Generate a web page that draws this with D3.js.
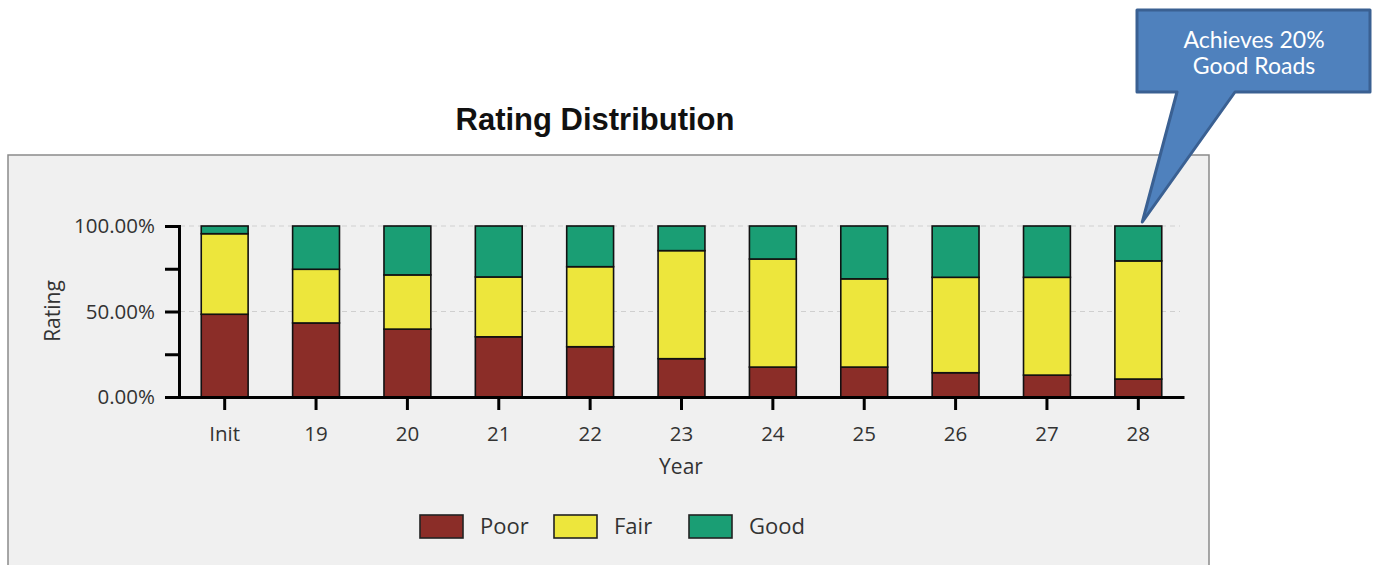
<!DOCTYPE html>
<html>
<head>
<meta charset="utf-8">
<script src="https://cdn.jsdelivr.net/npm/d3@7"></script>
<style>
  body { margin: 0; background: #fff; }
  svg { display: block; }
</style>
</head>
<body>
<div id="chart"></div>
<script>
// data (percent of roads)
const years = ["Init", "19", "20", "21", "22", "23", "24", "25", "26", "27", "28"];
const poor = [48.4, 43.3, 39.7, 35.2, 29.4, 22.4, 17.5, 17.5, 14.2, 12.8, 10.5];
const fair = [47.1, 31.4, 31.7, 35.0, 46.8, 63.2, 63.2, 51.6, 55.8, 57.2, 69.1];
const good = [4.5, 25.3, 28.6, 29.8, 23.8, 14.4, 19.3, 30.9, 30.0, 30.0, 20.4];
const seriesNames = ["Poor", "Fair", "Good"];
const yTicks = [0, 50, 100];
const calloutLines = ["Achieves 20%", "Good Roads"];

const colors = { Poor: "#8B2D28", Fair: "#EDE63C", Good: "#1A9E74" };

const width = 1391, height = 565;
const svg = d3.select("#chart").append("svg")
  .attr("width", width).attr("height", height);

// grey panel
svg.append("rect")
  .attr("x", 8).attr("y", 155).attr("width", 1201).attr("height", 420)
  .attr("fill", "#F0F0F0").attr("stroke", "#8a8a8a").attr("stroke-width", 1.5);

svg.append("text")
  .attr("x", 595).attr("y", 130)
  .attr("text-anchor", "middle")
  .style("font", "bold 31px 'Liberation Sans', Arial, sans-serif")
  .attr("fill", "#111")
  .text("Rating Distribution");

const rows = years.map((yr, i) => ({ year: yr, Poor: poor[i], Fair: fair[i], Good: good[i] }));
const stacked = d3.stack().keys(seriesNames)(rows);

const x = d3.scaleBand().domain(years).range([179, 1184]).paddingInner(0.487).paddingOuter(0.2435);
const y = d3.scaleLinear().domain([0, 100]).range([397, 226]);

const tickFont = "20.5px 'Open Sans', 'Noto Sans', sans-serif";
const titleFont = "21px 'Open Sans', 'Noto Sans', sans-serif";

// dashed grid
svg.append("g").selectAll("line")
  .data(yTicks.filter(d => d > 0))
  .join("line")
  .attr("x1", 180).attr("x2", 1180)
  .attr("y1", d => y(d)).attr("y2", d => y(d))
  .attr("stroke", "#cfcfcf").attr("stroke-dasharray", "5,4").attr("stroke-width", 1.2);

// bars
svg.append("g").selectAll("g")
  .data(stacked)
  .join("g")
  .attr("fill", d => colors[d.key])
  .selectAll("rect")
  .data(d => d)
  .join("rect")
  .attr("x", d => x(d.data.year))
  .attr("width", x.bandwidth())
  .attr("y", d => y(d[1]))
  .attr("height", d => y(d[0]) - y(d[1]))
  .attr("stroke", "#111").attr("stroke-width", 1.6);

// y axis
const yAxis = svg.append("g")
  .attr("transform", "translate(179,0)")
  .call(d3.axisLeft(y).tickValues([0, 25, 50, 75, 100]).tickSize(14)
    .tickFormat(d => yTicks.includes(d) ? d3.format(".2f")(d) + "%" : ""));
yAxis.select(".domain").attr("stroke", "#000").attr("stroke-width", 3);
yAxis.selectAll(".tick line").attr("stroke", "#000").attr("stroke-width", 3);
yAxis.selectAll(".tick text").style("font", tickFont).attr("fill", "#333").attr("x", -24);

// x axis
const xAxis = svg.append("g")
  .attr("transform", "translate(0,397)")
  .call(d3.axisBottom(x).tickSize(13).tickSizeOuter(0));
xAxis.select(".domain").attr("stroke", "#000").attr("stroke-width", 3);
xAxis.selectAll(".tick line").attr("stroke", "#000").attr("stroke-width", 3);
xAxis.selectAll(".tick text").style("font", tickFont).attr("fill", "#333").attr("dy", "1.35em");

svg.append("text")
  .attr("transform", "translate(60,311) rotate(-90)")
  .attr("text-anchor", "middle")
  .style("font", titleFont).attr("fill", "#333")
  .text("Rating");

svg.append("text")
  .attr("x", 681).attr("y", 474)
  .attr("text-anchor", "middle")
  .style("font", titleFont).attr("fill", "#333")
  .text("Year");

// legend
const legendX = [420, 554, 689];
const lg = svg.append("g").selectAll("g")
  .data(seriesNames)
  .join("g")
  .attr("transform", (d, i) => `translate(${legendX[i]},515)`);
lg.append("rect")
  .attr("width", 43).attr("height", 23)
  .attr("fill", d => colors[d]).attr("stroke", "#222").attr("stroke-width", 1.6);
lg.append("text")
  .attr("x", 60).attr("y", 19)
  .style("font", "22px 'Open Sans', 'Noto Sans', sans-serif").attr("fill", "#333")
  .text(d => d);

// callout pointing at the last bar
const tipX = x("28") + x.bandwidth() / 2 + 4, tipY = y(100) - 4;
const box = { x0: 1137, y0: 10, x1: 1370, y1: 92 };
svg.append("path")
  .attr("d", `M${box.x0},${box.y0}H${box.x1}V${box.y1}H1235L${tipX},${tipY}L1177,${box.y1}H${box.x0}Z`)
  .attr("fill", "#4F81BD").attr("stroke", "#3A6092").attr("stroke-width", 3).attr("stroke-linejoin", "round");
svg.append("g").selectAll("text")
  .data(calloutLines)
  .join("text")
  .attr("x", 1254).attr("y", (d, i) => 48 + i * 26)
  .attr("text-anchor", "middle")
  .style("font", "23px 'Lato', 'Noto Sans', sans-serif").attr("fill", "#fff")
  .text(d => d);
</script>
</body>
</html>
